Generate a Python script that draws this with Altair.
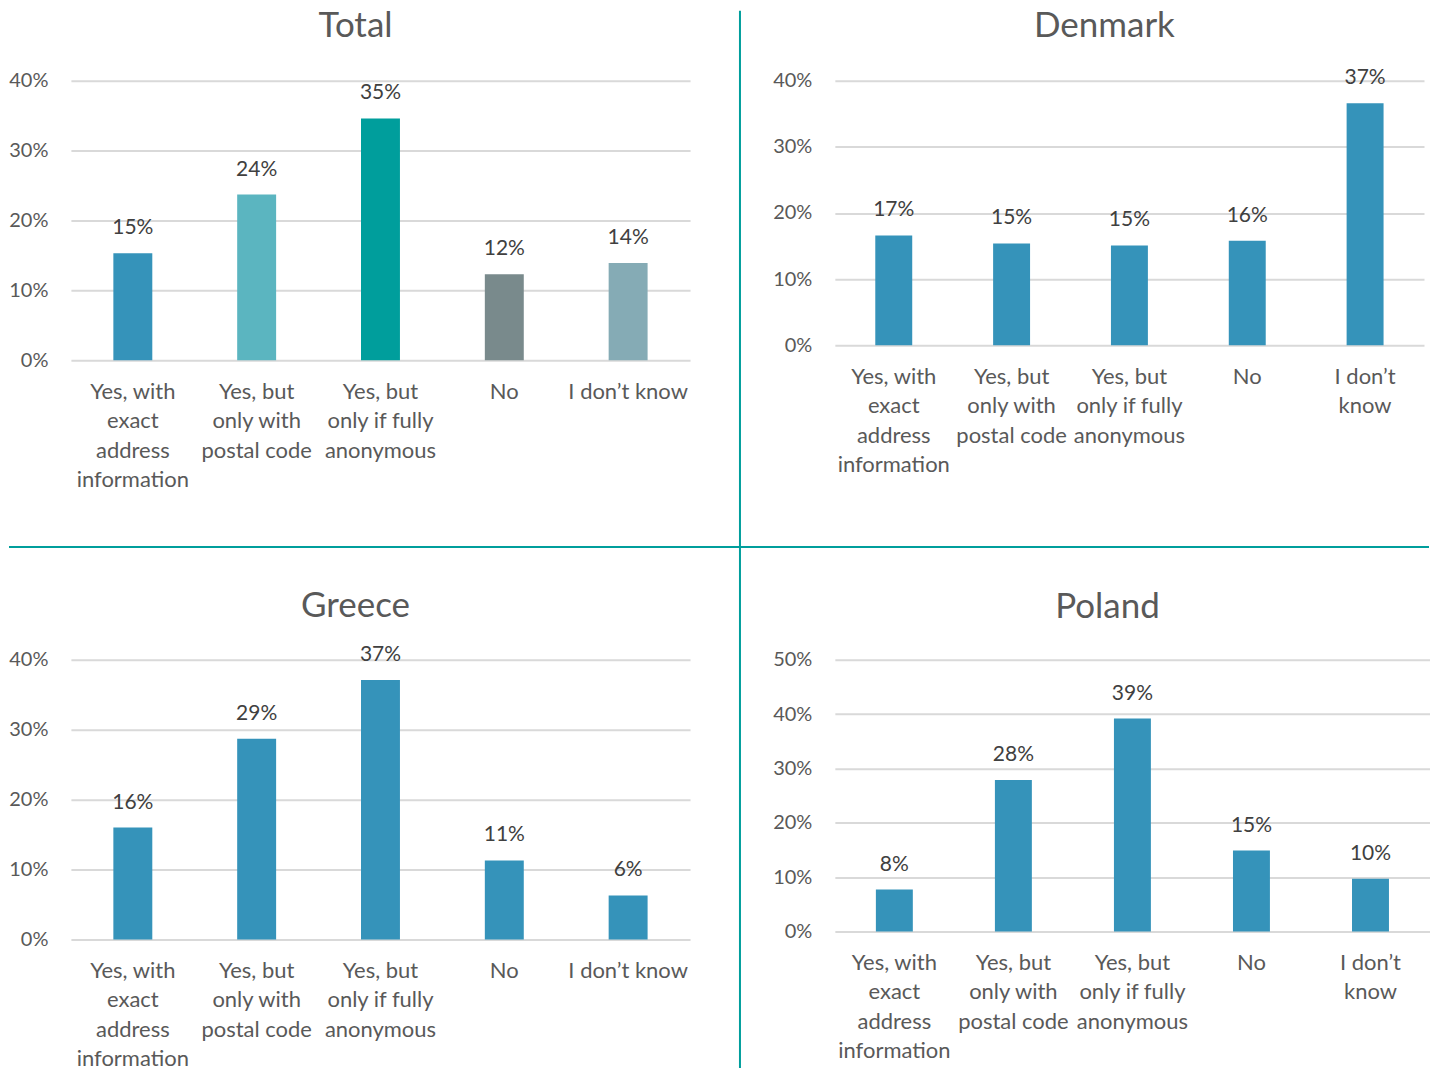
import altair as alt
import pandas as pd

FONT = "Lato"

# ---- data ----
labels_wide = ["Yes, with|exact|address|information", "Yes, but|only with|postal code",
               "Yes, but|only if fully|anonymous", "No", "I don’t know"]
labels_narrow = ["Yes, with|exact|address|information", "Yes, but|only with|postal code",
                 "Yes, but|only if fully|anonymous", "No", "I don’t|know"]

total_values = [0.153, 0.237, 0.346, 0.123, 0.139]
denmark_values = [0.166, 0.154, 0.151, 0.158, 0.366]
greece_values = [0.160, 0.287, 0.371, 0.113, 0.063]
poland_values = [0.077, 0.279, 0.392, 0.149, 0.097]

total_colors = ["#3593BA", "#5BB5C0", "#009E9C", "#798A8C", "#85ABB5"]
bar_color = "#3593BA"
sep_color = "#009E9C"

ticks_40 = [0, 0.1, 0.2, 0.3, 0.4]
ticks_50 = [0, 0.1, 0.2, 0.3, 0.4, 0.5]


def panel(title, values, labels, ticks, width, height, bar_width, title_offset, colors=None):
    df = pd.DataFrame({"cat": labels, "val": values})
    x = alt.X("cat:N", sort=labels,
              scale=alt.Scale(paddingInner=0, paddingOuter=0),
              axis=alt.Axis(title=None, labelExpr="split(datum.value, '|')", labelAngle=0,
                            ticks=False, tickSize=0, domain=False, labelPadding=21,
                            labelLineHeight=29.5, labelFontSize=22, labelColor="#595959",
                            labelFont=FONT, labelBaseline="top", labelLimit=300))
    y = alt.Y("val:Q", scale=alt.Scale(domain=[ticks[0], ticks[-1]], nice=False),
              axis=alt.Axis(title=None, format=".0%", values=ticks, ticks=False, tickSize=0,
                            domain=False, labelPadding=23, labelFontSize=20,
                            labelColor="#595959", labelFont=FONT, grid=True,
                            gridColor="#D9D9D9", gridWidth=2))
    base = alt.Chart(df)
    if colors is None:
        bars = base.mark_bar(width=bar_width, color=bar_color).encode(x=x, y=y)
    else:
        bars = base.mark_bar(width=bar_width).encode(
            x=x, y=y,
            color=alt.Color("cat:N", scale=alt.Scale(domain=labels, range=colors), legend=None))
    text = base.mark_text(font=FONT, fontSize=21, color="#404040", baseline="middle", dy=-25).encode(
        x=x, y=y, text=alt.Text("val:Q", format=".0%"))
    return bars, text, alt.TitleParams(text=title, fontSize=35, color="#595959", font=FONT,
                                       fontWeight="normal", anchor="middle", frame="group",
                                       dx=-25, offset=title_offset, baseline="alphabetic")


sep = pd.DataFrame({"k": [0]})


def vrule(xv, y1, y2):
    return alt.Chart(sep).mark_rule(color=sep_color, strokeWidth=2).encode(
        x=alt.value(xv), y=alt.value(y1), y2=alt.value(y2))


def hrule(yv, x1, x2):
    return alt.Chart(sep).mark_rule(color=sep_color, strokeWidth=2).encode(
        y=alt.value(yv), x=alt.value(x1), x2=alt.value(x2))


b, t, ti = panel("Total", total_values, labels_wide, ticks_40, 620, 280, 39, -62.5, total_colors)
total = alt.layer(b, t, vrule(670, -70, 467), hrule(467, -62, 670)).properties(
    width=620, height=280, title=ti)

b, t, ti = panel("Denmark", denmark_values, labels_narrow, ticks_40, 590, 265, 37, -4.5)
denmark = alt.layer(b, t, hrule(467, -95, 595)).properties(width=590, height=265, title=ti)

b, t, ti = panel("Greece", greece_values, labels_wide, ticks_40, 620, 280, 39, -106)
greece = alt.layer(b, t, vrule(670, -113, 410)).properties(width=620, height=280, title=ti)

b, t, ti = panel("Poland", poland_values, labels_narrow, ticks_50, 596, 272, 37, -3)
poland = alt.layer(b, t).properties(width=596, height=272, title=ti)

chart = alt.concat(total, denmark, greece, poland, columns=2,
                   spacing={"row": 300, "column": 145}, bounds="flush").properties(
    padding=0).configure_view(stroke=None)

chart.save("out.html", embed_options={"renderer": "svg", "actions": False})
